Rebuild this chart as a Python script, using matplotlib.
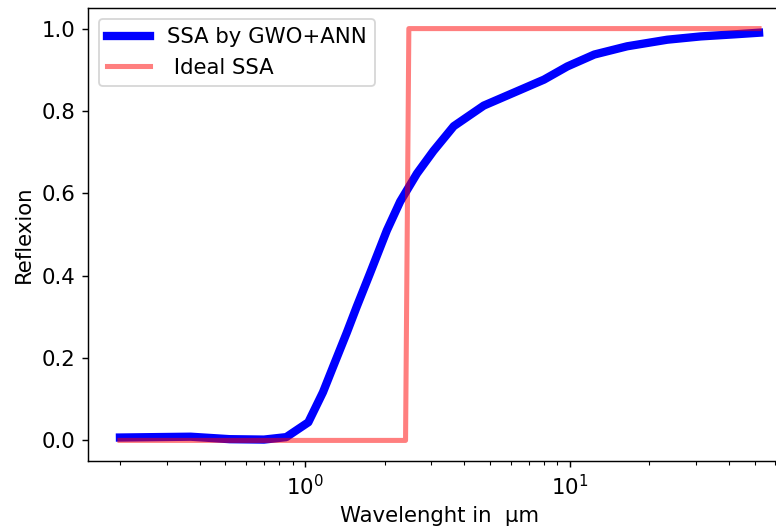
import numpy as np
import matplotlib
matplotlib.use('Agg')
import matplotlib.pyplot as plt

plt.rcParams['font.size'] = 11.8

# wavelength (um) and reflexion
wl_gwo = [0.2, 0.37, 0.52, 0.70, 0.85, 1.03, 1.17, 1.28, 1.44, 1.57, 1.76, 2.04, 2.29,
          2.65, 3.06, 3.65, 4.74, 6.34, 8.0, 9.8, 12.4, 16.5, 23.4, 31.3, 41.9, 52.0]
refl_gwo = [0.007, 0.009, 0.003, 0.002, 0.008, 0.044, 0.117, 0.180, 0.262, 0.325, 0.405, 0.510, 0.580,
            0.648, 0.703, 0.763, 0.813, 0.848, 0.876, 0.908, 0.937, 0.957, 0.973, 0.981, 0.986, 0.990]

wl_ideal = [0.2, 2.40, 2.47, 52.0]
refl_ideal = [0.0, 0.0, 1.0, 1.0]

dpi = 130
fig = plt.figure(figsize=(776/dpi, 530/dpi), dpi=dpi)
# axes runs past the right edge, like the cropped original
ax = fig.add_axes([88/776, (530-461)/530, (791-88)/776, (461-8)/530])

ax.plot(wl_gwo, refl_gwo, color='blue', lw=4.6, label='SSA by GWO+ANN')
ax.plot(wl_ideal, refl_ideal, color='red', lw=2.8, alpha=0.5, label=' Ideal SSA')
ax.set_xscale('log')
ax.set_xlabel('Wavelenght in  μm')
ax.set_ylabel('Reflexion')
ax.legend(loc='upper left')

fig.savefig('out.png', dpi=dpi)
